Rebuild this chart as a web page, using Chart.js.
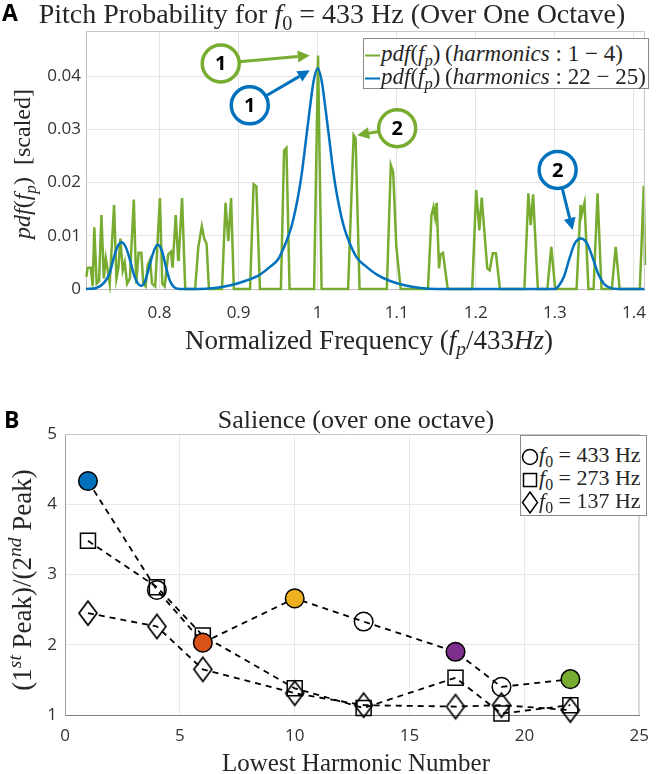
<!DOCTYPE html>
<html>
<head>
<meta charset="utf-8">
<script src="https://cdn.jsdelivr.net/npm/chart.js@4.4.1/dist/chart.umd.min.js"></script>
<style>
  body { margin: 0; background: #fff; }
  #page { position: relative; width: 660px; height: 774px; overflow: hidden; font-family: "Liberation Serif", serif; color: #262626; }
  canvas { position: absolute; left: 0; }
  .txt { position: absolute; white-space: nowrap; transform: translate(-50%, -50%); line-height: 1; }
  .rot { transform: translate(-50%, -50%) rotate(-90deg); }
  .panel { position: absolute; font-family: "Open Sans", sans-serif; font-weight: bold; font-size: 23px; color: #000; line-height: 1; }
  sub, sup { font-size: 0.72em; line-height: 0; }
  .legend { position: absolute; background: #fff; border: 1px solid #8a8a8a; box-sizing: border-box; }
  .row { position: absolute; left: 0; white-space: nowrap; line-height: 1; transform: translateY(-50%); }
  .swatch { display: inline-block; width: 15px; height: 0; border-top: 2.5px solid; vertical-align: middle; margin: 0 1px 0 1px; }
</style>
</head>
<body>
<div id="page">
  <canvas id="pitchChart" width="660" height="360" style="top:0"></canvas>
  <canvas id="salienceChart" width="660" height="374" style="top:400px"></canvas>

  <div class="panel" style="left:2px; top:1px">A</div>
  <div class="txt" style="left:332px; top:14px; font-size:28px">Pitch Probability for <i>f</i><sub>0</sub> = 433 Hz (Over One Octave)</div>
  <div class="txt rot" style="left:22px; top:164px; font-size:24px"><i>pdf</i>(<i>f</i><sub><i>p</i></sub>) &nbsp;[scaled]</div>
  <div class="txt" style="left:369px; top:340px; font-size:27px">Normalized Frequency (<i>f</i><sub><i>p</i></sub>/433<i>Hz</i>)</div>
  <div class="legend" style="left:363px; top:38px; width:286px; height:51px; font-size:23px">
    <div class="row" style="top:14px"><span class="swatch" style="border-color:#77AC30"></span><i>pdf</i>(<i>f</i><sub><i>p</i></sub>)&thinsp;(<i>harmonics</i> : 1 − 4)</div>
    <div class="row" style="top:37px"><span class="swatch" style="border-color:#0072BD"></span><i>pdf</i>(<i>f</i><sub><i>p</i></sub>)&thinsp;(<i>harmonics</i> : 22 − 25)</div>
  </div>

  <div class="panel" style="left:4px; top:408px">B</div>
  <div class="txt" style="left:356px; top:420px; font-size:26px">Salience (over one octave)</div>
  <div class="txt rot" style="left:22px; top:580px; font-size:27px">(1<sup><i>st</i></sup> Peak)/(2<sup><i>nd</i></sup> Peak)</div>
  <div class="txt" style="left:356px; top:762px; font-size:25px">Lowest Harmonic Number</div>
  <div class="legend" style="left:520px; top:435px; width:127px; height:81px; font-size:22px">
    <div class="row" style="top:20px"><svg width="18" height="22" style="vertical-align:middle"><circle cx="9" cy="11" r="7.5" fill="none" stroke="#000" stroke-width="1.5"/></svg><i>f</i><sub>0</sub> = 433 Hz</div>
    <div class="row" style="top:43px"><svg width="18" height="22" style="vertical-align:middle"><rect x="2.5" y="4.5" width="13" height="13" fill="none" stroke="#000" stroke-width="1.5"/></svg><i>f</i><sub>0</sub> = 273 Hz</div>
    <div class="row" style="top:66px"><svg width="18" height="24" style="vertical-align:middle"><path d="M9 1.5 L16.5 12 L9 22.5 L1.5 12 Z" fill="none" stroke="#000" stroke-width="1.5"/></svg><i>f</i><sub>0</sub> = 137 Hz</div>
  </div>
</div>

<script>
// Panel A: pitch probability, [normalized frequency, scaled pdf]
const lowHarmonicsCurve = [
  [0.7075, 0.0023], [0.709, 0.004], [0.713, 0.004], [0.7155, 0.0005], [0.7175, 0.0116], [0.7205, 0.001],
  [0.7235, 0.0015], [0.7265, 0.0139], [0.7295, 0.002], [0.732, 0.0058], [0.7345, 0.0035], [0.737, 0.001],
  [0.7425, 0.0158], [0.7455, 0.002], [0.748, 0.004], [0.7505, 0.0095], [0.7535, 0.0035], [0.756, 0.005],
  [0.759, 0.001], [0.7625, 0.002], [0.7675, 0.0168], [0.7705, 0.001], [0.7735, 0.0068], [0.777, 0.0068],
  [0.7795, 0.001], [0.7825, 0.0005], [0.785, 0.0045], [0.788, 0.0055], [0.7905, 0.001], [0.7945, 0.0005],
  [0.8005, 0.0171], [0.8035, 0.001], [0.8065, 0.0005], [0.811, 0.0065], [0.8145, 0.007], [0.8165, 0.004],
  [0.8205, 0.0139], [0.8235, 0.0055], [0.8245, 0.0065], [0.8285, 0.0171], [0.8325, 0], [0.845, 0],
  [0.849, 0.0078], [0.8535, 0.0118], [0.8565, 0.0095], [0.8595, 0.0085], [0.8625, 0], [0.879, 0],
  [0.8835, 0.0162], [0.887, 0.009], [0.8905, 0.0171], [0.894, 0], [0.9145, 0], [0.919, 0.0197],
  [0.9225, 0.0193], [0.927, 0], [0.9535, 0], [0.9575, 0.026], [0.9605, 0.0265], [0.9645, 0],
  [0.9955, 0], [1.0005, 0.0439], [1.005, 0], [1.0385, 0], [1.0455, 0.0289], [1.048, 0.0283],
  [1.053, 0], [1.0875, 0], [1.0925, 0.0233], [1.0955, 0.022], [1.0995, 0.0079], [1.1005, 0.0065],
  [1.105, 0], [1.1395, 0], [1.144, 0.0139], [1.1465, 0.0154], [1.1485, 0.0135], [1.1505, 0.0162],
  [1.1535, 0.0039], [1.1555, 0.0065], [1.1585, 0.0068], [1.1645, 0], [1.1955, 0], [1.2005, 0.0186],
  [1.2045, 0.011], [1.2075, 0.0172], [1.2145, 0.0039], [1.2175, 0.0035], [1.2215, 0.0067], [1.2255, 0.0067],
  [1.2305, 0], [1.2615, 0], [1.2665, 0.018], [1.2695, 0.012], [1.2725, 0.0178], [1.2785, 0],
  [1.2905, 0], [1.2955, 0.0079], [1.3005, 0], [1.3275, 0], [1.3325, 0.0158], [1.334, 0.014],
  [1.3375, 0.0162], [1.3425, 0], [1.349, 0], [1.354, 0.018], [1.359, 0], [1.372, 0],
  [1.377, 0.0079], [1.382, 0], [1.4075, 0], [1.4125, 0.0194], [1.414, 0.0045]
];
const highHarmonicsCurve = [
  [0.707, 0], [0.72, 0.0002], [0.73, 0.0012], [0.737, 0.003], [0.742, 0.0058], [0.747, 0.008],
  [0.752, 0.0088], [0.757, 0.008], [0.762, 0.0058], [0.767, 0.003], [0.772, 0.0012], [0.777, 0.0006],
  [0.782, 0.0016], [0.787, 0.0042], [0.792, 0.0068], [0.7975, 0.0083], [0.803, 0.0072], [0.808, 0.0042],
  [0.813, 0.0016], [0.818, 0.0004], [0.825, 0], [0.85, 0], [0.87, 0.0002], [0.89, 0.0007],
  [0.91, 0.0016], [0.925, 0.0025], [0.94, 0.0042], [0.95, 0.0056], [0.96, 0.0088], [0.967, 0.0118],
  [0.975, 0.0172], [0.98, 0.0218], [0.985, 0.0278], [0.99, 0.0338], [0.995, 0.0392], [1.0, 0.0415],
  [1.005, 0.0392], [1.01, 0.0338], [1.015, 0.0278], [1.02, 0.0218], [1.025, 0.0172], [1.033, 0.0118],
  [1.04, 0.0088], [1.05, 0.0058], [1.06, 0.0044], [1.075, 0.0027], [1.09, 0.0016], [1.11, 0.0007],
  [1.13, 0.0002], [1.15, 0], [1.3, 0], [1.305, 0.0006], [1.312, 0.0025], [1.318, 0.0055],
  [1.325, 0.0085], [1.333, 0.0095], [1.341, 0.0085], [1.348, 0.0058], [1.355, 0.0028], [1.362, 0.001],
  [1.37, 0.0002], [1.38, 0], [1.414, 0]
];
const pitchTicksX = [0.8, 0.9, 1, 1.1, 1.2, 1.3, 1.4];
const pitchTicksY = [0, 0.01, 0.02, 0.03, 0.04];

// numbered callouts: arrow tip in data units, circle offset in px
const pitchCallouts = [
  { label: '1', color: '#77AC30', x: 0.99, y: 0.0439, dx: -89, dy: 8 },
  { label: '1', color: '#0072BD', x: 0.99, y: 0.0411, dx: -60, dy: 35 },
  { label: '2', color: '#77AC30', x: 1.05, y: 0.0289, dx: 40, dy: -7 },
  { label: '2', color: '#0072BD', x: 1.3225, y: 0.0111, dx: -15, dy: -60 }
];

// Panel B: salience vs lowest harmonic
const lowestHarmonic = [1, 4, 6, 10, 13, 17, 19, 22];
const salience433 = [4.33, 2.78, 2.03, 2.66, 2.33, 1.90, 1.40, 1.51];
const salience273 = [3.48, 2.82, 2.13, 1.38, 1.10, 1.53, 1.02, 1.14];
const salience137 = [2.45, 2.26, 1.65, 1.31, 1.14, 1.12, 1.14, 1.07];
const highlight433 = ['#0072BD', null, '#D95319', '#EDB120', null, '#7E2F8E', null, '#77AC30'];
const salienceTicksX = [0, 5, 10, 15, 20, 25];
const salienceTicksY = [1, 2, 3, 4, 5];

const tickFont = { family: 'Open Sans', size: 17 };
const tickColor = '#333';

// fixed plot boxes (canvas px)
const boxA = { left: 86, right: 653, top: 31, bottom: 289, height: 360 };
const boxB = { left: 65, right: 648, top: 34, bottom: 315, height: 374 };

const framePlugin = {
    id: 'frame',
    afterDatasetsDraw(chart) {
        const { ctx, chartArea: a } = chart;
        ctx.save();
        ctx.strokeStyle = '#c8c8c8';
        ctx.lineWidth = 1;
        ctx.beginPath();
        ctx.moveTo(a.left, a.top + 0.5);
        ctx.lineTo(a.right - 0.5, a.top + 0.5);
        ctx.lineTo(a.right - 0.5, a.bottom);
        ctx.stroke();
        ctx.restore();
    }
};

const calloutPlugin = {
    id: 'callouts',
    afterDatasetsDraw(chart) {
        const { ctx, scales: { x, y } } = chart;
        const r = 18.5;
        ctx.save();
        pitchCallouts.forEach(c => {
            const tx = x.getPixelForValue(c.x);
            const ty = y.getPixelForValue(c.y);
            const cx = tx + c.dx;
            const cy = ty + c.dy;
            const ang = Math.atan2(ty - cy, tx - cx);
            const sx = cx + Math.cos(ang) * r;
            const sy = cy + Math.sin(ang) * r;
            const head = 12;
            const bx = tx - Math.cos(ang) * head;
            const by = ty - Math.sin(ang) * head;

            ctx.strokeStyle = c.color;
            ctx.fillStyle = c.color;
            ctx.lineWidth = 3;
            ctx.beginPath();
            ctx.moveTo(sx, sy);
            ctx.lineTo(bx, by);
            ctx.stroke();
            ctx.beginPath();
            ctx.moveTo(tx, ty);
            ctx.lineTo(bx + Math.sin(ang) * 6, by - Math.cos(ang) * 6);
            ctx.lineTo(bx - Math.sin(ang) * 6, by + Math.cos(ang) * 6);
            ctx.closePath();
            ctx.fill();

            ctx.lineWidth = 3.5;
            ctx.fillStyle = '#fff';
            ctx.beginPath();
            ctx.arc(cx, cy, r, 0, Math.PI * 2);
            ctx.fill();
            ctx.stroke();

            ctx.fillStyle = '#000';
            ctx.font = 'bold 20px "Open Sans"';
            ctx.textAlign = 'center';
            ctx.textBaseline = 'middle';
            ctx.fillText(c.label, cx, cy + 1);
        });
        ctx.restore();
    }
};

function fixedTicks(values) {
    return scale => { scale.ticks = values.map(v => ({ value: v })); };
}

function diamondMarker(w, h) {
    const c = document.createElement('canvas');
    c.width = w + 4;
    c.height = h + 4;
    const g = c.getContext('2d');
    g.strokeStyle = '#000';
    g.lineWidth = 1.7;
    g.beginPath();
    g.moveTo(c.width / 2, 2);
    g.lineTo(c.width - 2, c.height / 2);
    g.lineTo(c.width / 2, c.height - 2);
    g.lineTo(2, c.height / 2);
    g.closePath();
    g.stroke();
    return c;
}

function pitchChart() {
    const ctx = document.getElementById('pitchChart').getContext('2d');
    new Chart(ctx, {
        type: 'line',
        data: {
            datasets: [{
                label: 'pdf(f_p) (harmonics : 1 - 4)',
                data: lowHarmonicsCurve.map(p => ({ x: p[0], y: p[1] })),
                borderColor: '#77AC30',
                borderWidth: 2.5,
                pointRadius: 0,
                tension: 0,
                order: 2,
                clip: 4
            }, {
                label: 'pdf(f_p) (harmonics : 22 - 25)',
                data: highHarmonicsCurve.map(p => ({ x: p[0], y: p[1] })),
                borderColor: '#0072BD',
                borderWidth: 2.5,
                pointRadius: 0,
                cubicInterpolationMode: 'monotone',
                order: 1,
                clip: 4
            }]
        },
        options: {
            responsive: false,
            animation: false,
            events: [],
            layout: { autoPadding: false, padding: { left: 0, bottom: 0, top: boxA.top, right: 660 - boxA.right } },
            plugins: { legend: { display: false }, tooltip: { enabled: false } },
            scales: {
                x: {
                    type: 'linear',
                    min: 0.707,
                    max: 1.414,
                    afterBuildTicks: fixedTicks(pitchTicksX),
                    afterFit: s => { s.height = boxA.height - boxA.bottom; },
                    grid: { color: '#e4e4e4', drawTicks: false },
                    border: { color: '#bdbdbd' },
                    ticks: { font: tickFont, color: tickColor, padding: 14, maxRotation: 0,
                        callback: v => String(+v.toFixed(2)) }
                },
                y: {
                    min: 0,
                    max: 0.0485,
                    afterBuildTicks: fixedTicks(pitchTicksY),
                    afterFit: s => { s.width = boxA.left; },
                    grid: { color: '#e4e4e4', drawTicks: false },
                    border: { color: '#bdbdbd' },
                    ticks: { font: tickFont, color: tickColor, padding: 5,
                        callback: v => String(+v.toFixed(3)) }
                }
            }
        },
        plugins: [framePlugin, calloutPlugin]
    });
}

function salienceChart() {
    const ctx = document.getElementById('salienceChart').getContext('2d');
    const line = {
        borderColor: '#000',
        borderWidth: 1.8,
        borderDash: [6, 5],
        pointBorderColor: '#000',
        pointBorderWidth: 1.5,
        tension: 0,
        clip: false
    };
    new Chart(ctx, {
        type: 'line',
        data: {
            datasets: [{
                ...line,
                label: 'f0 = 433 Hz',
                data: lowestHarmonic.map((h, i) => ({ x: h, y: salience433[i] })),
                pointStyle: 'circle',
                pointRadius: 9.3,
                pointBackgroundColor: highlight433.map(c => c || 'rgba(0,0,0,0)')
            }, {
                ...line,
                label: 'f0 = 273 Hz',
                data: lowestHarmonic.map((h, i) => ({ x: h, y: salience273[i] })),
                pointStyle: 'rect',
                pointRadius: 10.6,
                pointBackgroundColor: 'rgba(0,0,0,0)'
            }, {
                ...line,
                label: 'f0 = 137 Hz',
                data: lowestHarmonic.map((h, i) => ({ x: h, y: salience137[i] })),
                pointStyle: diamondMarker(18, 24),
                pointRadius: 10
            }]
        },
        options: {
            responsive: false,
            animation: false,
            events: [],
            layout: { autoPadding: false, padding: { left: 0, bottom: 0, top: boxB.top, right: 660 - boxB.right } },
            plugins: { legend: { display: false }, tooltip: { enabled: false } },
            scales: {
                x: {
                    type: 'linear',
                    min: 0,
                    max: 25,
                    afterBuildTicks: fixedTicks(salienceTicksX),
                    afterFit: s => { s.height = boxB.height - boxB.bottom; },
                    grid: { color: '#e8e8e8', drawTicks: false },
                    border: { color: '#808080' },
                    ticks: { font: tickFont, color: tickColor, padding: 11, maxRotation: 0 }
                },
                y: {
                    min: 1,
                    max: 5,
                    afterBuildTicks: fixedTicks(salienceTicksY),
                    afterFit: s => { s.width = boxB.left; },
                    grid: { color: '#e8e8e8', drawTicks: false },
                    border: { color: '#a0a0a0' },
                    ticks: { font: tickFont, color: tickColor, padding: 8 }
                }
            }
        },
        plugins: [framePlugin]
    });
}

pitchChart();
salienceChart();
</script>
</body>
</html>
